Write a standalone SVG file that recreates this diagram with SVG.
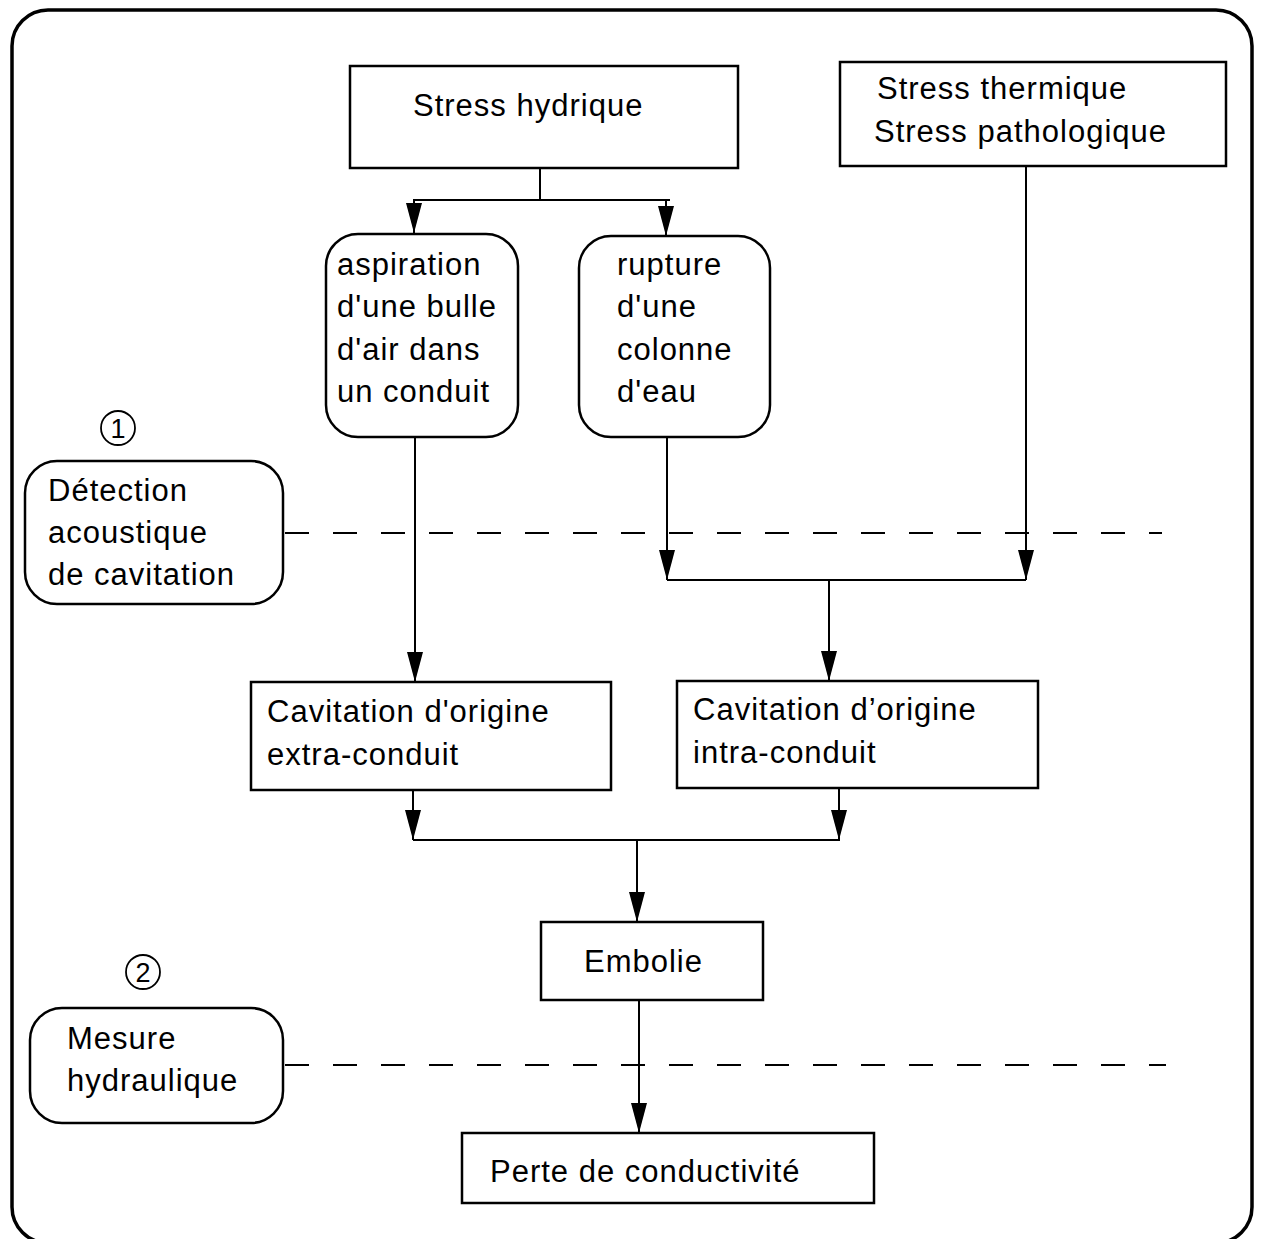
<svg xmlns="http://www.w3.org/2000/svg" width="1263" height="1239" viewBox="0 0 1263 1239">
<defs>
<style>
.box{fill:#fff;stroke:#000;stroke-width:2.5}
.frame{fill:#fff;stroke:#000;stroke-width:3.5}
.t{font-family:"Liberation Sans",Arial,Helvetica,sans-serif;font-size:31px;letter-spacing:1px;fill:#000}
.num{font-family:"Liberation Sans",Arial,sans-serif;font-size:27px;fill:#000;text-anchor:middle}
.c{fill:none;stroke:#000;stroke-width:2}
.dash{fill:none;stroke:#000;stroke-width:2;stroke-dasharray:24 24}
.circ{fill:none;stroke:#000;stroke-width:1.8}
</style>
<marker id="arr" viewBox="0 0 30 16" refX="30" refY="8" markerWidth="30" markerHeight="16" markerUnits="userSpaceOnUse" orient="auto">
<path d="M0,0 L30,8 L0,16 Z" fill="#000"/>
</marker>
</defs>
<rect x="12" y="10" width="1240" height="1233" rx="36" class="frame"/>

<g id="connectors">
<path class="c" d="M540,168 V200 H414 V233" marker-end="url(#arr)"/>
<path class="c" d="M540,200 H670 M666,200 V236" marker-end="url(#arr)"/>
<path class="c" d="M415,437 V682" marker-end="url(#arr)"/>
<path class="c" d="M667,437 V580" marker-end="url(#arr)"/>
<path class="c" d="M1026,167 V580" marker-end="url(#arr)"/>
<path class="c" d="M667,580 H1026"/>
<path class="c" d="M829,580 V681" marker-end="url(#arr)"/>
<path class="c" d="M413,790 V840" marker-end="url(#arr)"/>
<path class="c" d="M839,788 V840" marker-end="url(#arr)"/>
<path class="c" d="M413,840 H840"/>
<path class="c" d="M637,840 V922" marker-end="url(#arr)"/>
<path class="c" d="M639,1000 V1133" marker-end="url(#arr)"/>
<path class="dash" d="M285,533 H1162"/>
<path class="dash" d="M285,1065 H1166"/>
</g>

<g id="stress-hydrique">
<rect class="box" x="350" y="66" width="388" height="102"/>
<text class="t" x="413" y="116">Stress hydrique</text>
</g>

<g id="stress-thermique">
<rect class="box" x="840" y="62" width="386" height="104"/>
<text class="t" x="877" y="99">Stress thermique</text>
<text class="t" x="874" y="142">Stress pathologique</text>
</g>

<g id="aspiration">
<rect class="box" x="326" y="234" width="192" height="203" rx="32"/>
<text class="t" x="337" y="275">aspiration</text>
<text class="t" x="337" y="317">d'une bulle</text>
<text class="t" x="337" y="360">d'air dans</text>
<text class="t" x="337" y="402">un conduit</text>
</g>

<g id="rupture">
<rect class="box" x="579" y="236" width="191" height="201" rx="32"/>
<text class="t" x="617" y="275">rupture</text>
<text class="t" x="617" y="317">d'une</text>
<text class="t" x="617" y="360">colonne</text>
<text class="t" x="617" y="402">d'eau</text>
</g>

<g id="detection">
<circle class="circ" cx="118" cy="428" r="17"/>
<text class="num" x="118" y="438">1</text>
<rect class="box" x="25" y="461" width="258" height="143" rx="32"/>
<text class="t" x="48" y="501">Détection</text>
<text class="t" x="48" y="543">acoustique</text>
<text class="t" x="48" y="585">de cavitation</text>
</g>

<g id="cavitation-extra">
<rect class="box" x="251" y="682" width="360" height="108"/>
<text class="t" x="267" y="722">Cavitation d'origine</text>
<text class="t" x="267" y="765">extra-conduit</text>
</g>

<g id="cavitation-intra">
<rect class="box" x="677" y="681" width="361" height="107"/>
<text class="t" x="693" y="720">Cavitation d’origine</text>
<text class="t" x="693" y="763">intra-conduit</text>
</g>

<g id="embolie">
<rect class="box" x="541" y="922" width="222" height="78"/>
<text class="t" x="584" y="972">Embolie</text>
</g>

<g id="mesure">
<circle class="circ" cx="143" cy="972" r="17"/>
<text class="num" x="143" y="982">2</text>
<rect class="box" x="30" y="1008" width="253" height="115" rx="32"/>
<text class="t" x="67" y="1049">Mesure</text>
<text class="t" x="67" y="1091">hydraulique</text>
</g>

<g id="perte">
<rect class="box" x="462" y="1133" width="412" height="70"/>
<text class="t" x="490" y="1182">Perte de conductivité</text>
</g>
</svg>
